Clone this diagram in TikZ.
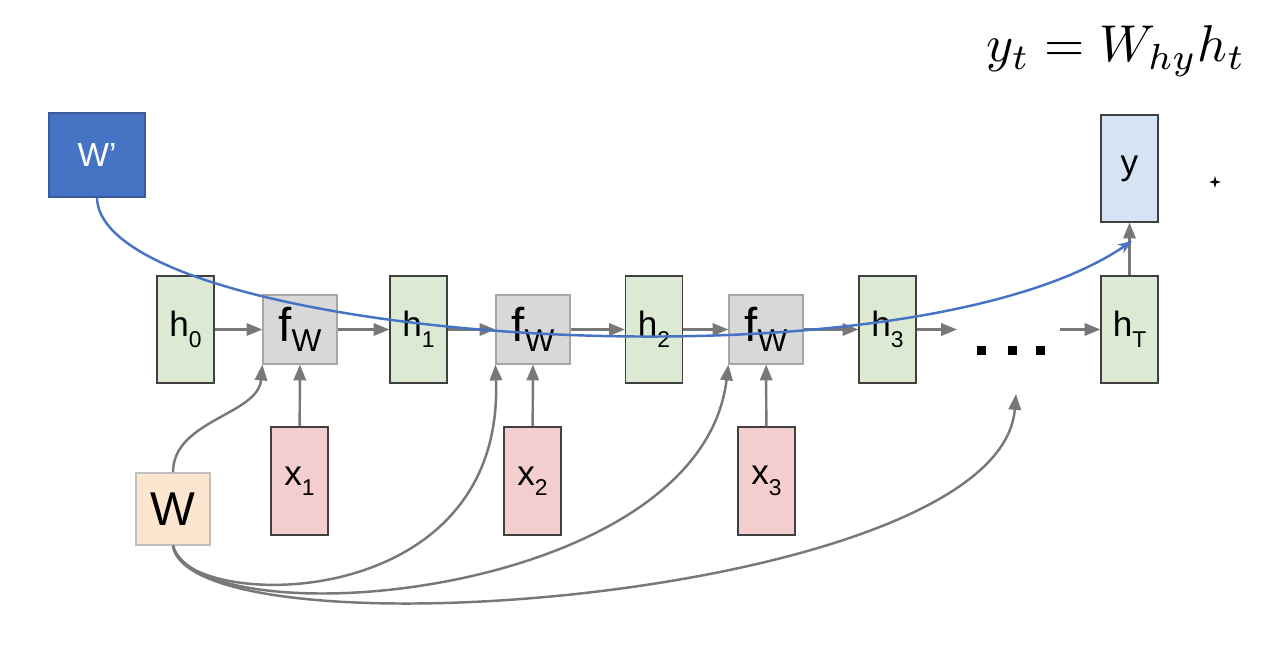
\documentclass[tikz,border=0pt]{standalone}
\usepackage{fontspec}
\setsansfont{Liberation Sans}
\usetikzlibrary{arrows.meta}

\definecolor{hgreen}{RGB}{220,234,212}
\definecolor{fgray}{RGB}{216,216,216}
\definecolor{xpink}{RGB}{244,206,206}
\definecolor{ypale}{RGB}{212,228,245}
\definecolor{wpeach}{RGB}{252,230,208}
\definecolor{wblue}{RGB}{70,115,196}
\definecolor{arrgray}{RGB}{120,120,120}

\newcommand{\subtxt}[2]{#1\raisebox{-6pt}{\fontsize{13}{13}\selectfont #2}}
\newcommand{\fwtxt}{\fontsize{27}{27}\selectfont f\raisebox{-5.5pt}{\fontsize{18}{18}\selectfont W}}

\tikzset{
  hbox/.style={draw=black!75, fill=hgreen, line width=0.7pt, minimum width=1.14cm,
    minimum height=2.14cm, inner sep=0pt, font=\sffamily\fontsize{20}{20}\selectfont},
  xbox/.style={hbox, fill=xpink, minimum height=2.16cm},
  ybox/.style={hbox, fill=ypale},
  fbox/.style={draw=black!35, fill=fgray, line width=0.7pt, minimum width=1.48cm,
    minimum height=1.38cm, inner sep=0pt, font=\sffamily},
  wbox/.style={draw=black!25, fill=wpeach, line width=0.7pt, minimum width=1.48cm,
    minimum height=1.44cm, inner sep=0pt, font=\sffamily\fontsize{27}{27}\selectfont},
  wpbox/.style={draw=wblue!80!black, fill=wblue, text=white, line width=0.7pt,
    minimum width=1.92cm, minimum height=1.68cm, inner sep=0pt,
    font=\sffamily\fontsize{19}{19}\selectfont},
  garrow/.style={draw=arrgray, line width=1.4pt, -{Triangle[length=9pt,width=7pt]}},
  barrow/.style={draw=wblue, line width=1.4pt, -{Stealth[length=8pt,width=6pt]}},
}

\begin{document}
\begin{tikzpicture}[x=0.02cm, y=-0.02cm]
    \useasboundingbox (0,0) rectangle (1272,646);
    % Ausgabe-Formel
    \node[scale=2.95] (eq) at (1116,51) {$y_t = W_{hy}h_t$};
    % Gewichte
    \node[wpbox] (Wp) at (97,155) {W’};
    \node[wbox] (W) at (173,509) {W};
    % Zustaende h und Zellen f_W
    \foreach \n/\x in {0/185.5,1/418.5,2/654,3/887.5}
        \node[hbox] (h\n) at (\x,329.5) {\subtxt{h}{\n}};
    \node[hbox] (hT) at (1129.5,329.5) {\subtxt{h}{T}};
    \foreach \n/\x in {1/300,2/533,3/766}
        \node[fbox] (f\n) at (\x,329.5) {\fwtxt};
    % Eingaben
    \foreach \n/\x in {1/299.5,2/532.5,3/766.5}
        \node[xbox] (x\n) at (\x,481) {\subtxt{x}{\n}};
    \node[ybox] (y) at (1129.5,168.5) {y};
    % Punkte
    \coordinate (dots) at (1008,355);
    \foreach \dx in {-31,0,28}
        \fill ([shift={(\dx,0)}]dots) rectangle +(9,-9);
    \coordinate (hout) at (957,329.5);
    \coordinate (hin) at (1060,329.5);
    \coordinate (dotsin) at (1016,394);
    \coordinate (ytip) at (1132,241);
    % kleiner Stern
    \fill (1215,176) -- (1216.3,180.7) -- (1221,182) -- (1216.3,183.3) -- (1215,188)
        -- (1213.7,183.3) -- (1209,182) -- (1213.7,180.7) -- cycle;
    % Pfeile der Kette
    \foreach \a/\b in {h0/f1,f1/h1,h1/f2,f2/h2,h2/f3,f3/h3}
        \draw[garrow] (\a) -- (\b);
    \draw[garrow] (h3) -- (hout);
    \draw[garrow] (hin) -- (hT);
    \draw[garrow] (hT) -- (y);
    \foreach \n in {1,2,3}
        \draw[garrow] (x\n) -- (f\n);
    % W geht in jede Zelle
    \draw[garrow] (W.north) .. controls (173,420) and (258,415) .. (f1.south west);
    \draw[garrow] (W.south) .. controls (180,610) and (505,620) .. (f2.south west);
    \draw[garrow] (W.south) .. controls (200,640) and (700,600) .. (f3.south west);
    \draw[garrow] (W.south) .. controls (190,660) and (1000,600) .. (dotsin);
    % W' zur Ausgabe
    \draw[barrow] (Wp.south) .. controls (100,340) and (900,400) .. (ytip);
\end{tikzpicture}
\end{document}
